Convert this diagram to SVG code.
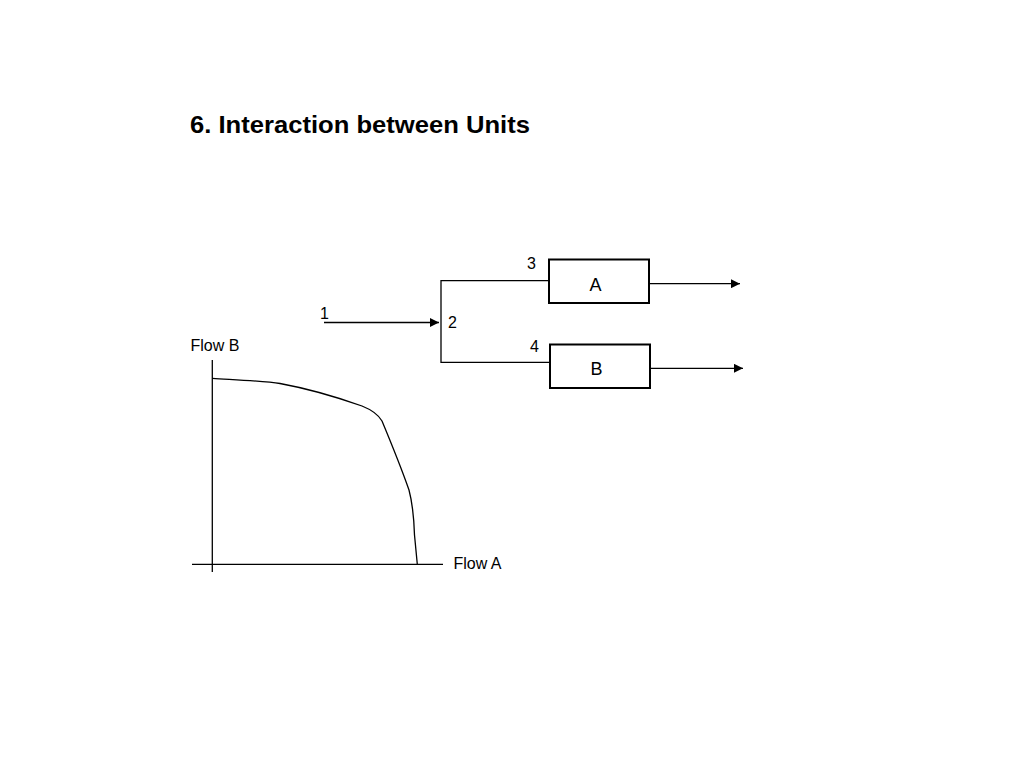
<svg xmlns="http://www.w3.org/2000/svg" width="1024" height="768" viewBox="0 0 1024 768">
<style>
text{font-family:"Liberation Sans",Arial,sans-serif;fill:#000}
.lbl{font-size:16px}
.box{fill:#fff;stroke:#000;stroke-width:2}
.ln{fill:none;stroke:#000;stroke-width:1.3}
</style>
<defs>
<marker id="ah" viewBox="0 0 10 10" refX="10" refY="5" markerWidth="9" markerHeight="9" markerUnits="userSpaceOnUse" orient="auto">
<path d="M0,0 L10,5 L0,10 z" fill="#000"/>
</marker>
</defs>
<rect width="1024" height="768" fill="#fff"/>
<text id="title" x="190" y="132.5" font-size="24.5" font-weight="bold" textLength="340" lengthAdjust="spacingAndGlyphs">6. Interaction between Units</text>
<g id="connectors">
<line class="ln" x1="324" y1="322.5" x2="439" y2="322.5" marker-end="url(#ah)"/>
<polyline class="ln" points="549,280.7 441,280.7 441,362.3 550,362.3"/>
<line class="ln" x1="649" y1="283.7" x2="740" y2="283.7" marker-end="url(#ah)"/>
<line class="ln" x1="650" y1="368.3" x2="743" y2="368.3" marker-end="url(#ah)"/>
</g>
<g id="label1"><text class="lbl" x="320" y="319">1</text></g>
<g id="label2"><text class="lbl" x="448" y="327.5">2</text></g>
<g id="label3"><text class="lbl" x="527" y="268.5">3</text></g>
<g id="label4"><text class="lbl" x="530" y="351.5">4</text></g>
<g id="nodeA"><rect class="box" x="549" y="259.5" width="100" height="43.5"/><text x="595.5" y="290.5" font-size="18" text-anchor="middle">A</text></g>
<g id="nodeB"><rect class="box" x="550" y="344.5" width="100" height="43.5"/><text x="596.5" y="374.5" font-size="18" text-anchor="middle">B</text></g>
<g id="chart">
<line class="ln" x1="212.3" y1="360" x2="212.3" y2="572"/>
<line class="ln" x1="192" y1="564.3" x2="443" y2="564.3"/>
<path class="ln" d="M212.3,378.3 C240,380 265,381 280,383.5 C310,389 345,400 362,406 C372,410 378,414 382,421 C392,445 402,470 409,490 C413,505 414,520 414.5,535 L417.3,564.3"/>
<text class="lbl" x="190.5" y="350.5">Flow B</text>
<text class="lbl" x="453.5" y="569" font-size="16.5">Flow A</text>
</g>
</svg>
